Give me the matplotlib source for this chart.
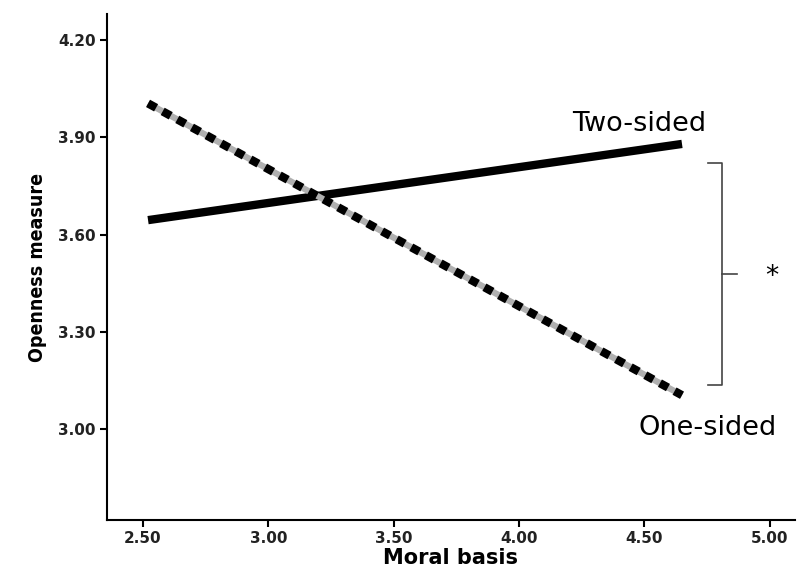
import matplotlib.pyplot as plt

# fitted lines: moral basis (x) vs openness (y)
moral_basis = [2.52, 4.65]
two_sided = [3.645, 3.88]
one_sided = [4.005, 3.105]

x_ticks = [2.50, 3.00, 3.50, 4.00, 4.50, 5.00]
y_ticks = [3.00, 3.30, 3.60, 3.90, 4.20]

fig = plt.figure(figsize=(7.98, 5.69), dpi=100)
ax = fig.add_axes([0.134, 0.086, 0.862, 0.889])

ax.plot(moral_basis, two_sided, color="black", linewidth=6, solid_capstyle="butt")
ax.plot(moral_basis, one_sided, color="#b0b0b0", linewidth=4.5, solid_capstyle="butt")
ax.plot(moral_basis, one_sided, color="black", linewidth=6,
        linestyle=(0, (1.1, 0.9)), dash_capstyle="butt")

ax.set_xlim(2.356, 5.10)
ax.set_ylim(2.72, 4.28)
ax.set_xticks(x_ticks)
ax.set_yticks(y_ticks)
ax.set_xticklabels([f"{v:.2f}" for v in x_ticks], fontsize=11, fontweight="bold", color="#222222")
ax.set_yticklabels([f"{v:.2f}" for v in y_ticks], fontsize=11, fontweight="bold", color="#222222")
ax.tick_params(direction="out", length=5, width=1.5, pad=3)

for side in ["top", "right"]:
    ax.spines[side].set_visible(False)
for side in ["left", "bottom"]:
    ax.spines[side].set_linewidth(1.5)

ax.set_xlabel("Moral basis", fontsize=15, fontweight="bold", labelpad=1)
ax.set_ylabel("Openness measure", fontsize=14, fontweight="bold", fontstretch="condensed", labelpad=8)

ax.text(4.21, 3.94, "Two-sided", fontsize=19.5, va="center", ha="left")
ax.text(4.475, 3.005, "One-sided", fontsize=19.5, va="center", ha="left")

# significance bracket
ax.plot([4.755, 4.81, 4.81, 4.755], [3.822, 3.822, 3.135, 3.135], color="#444444", linewidth=1.2)
ax.plot([4.81, 4.87], [3.48, 3.48], color="#444444", linewidth=1.2)
ax.text(5.01, 3.47, "*", fontsize=19, ha="center", va="center")

fig.savefig("out.png", dpi=100)
